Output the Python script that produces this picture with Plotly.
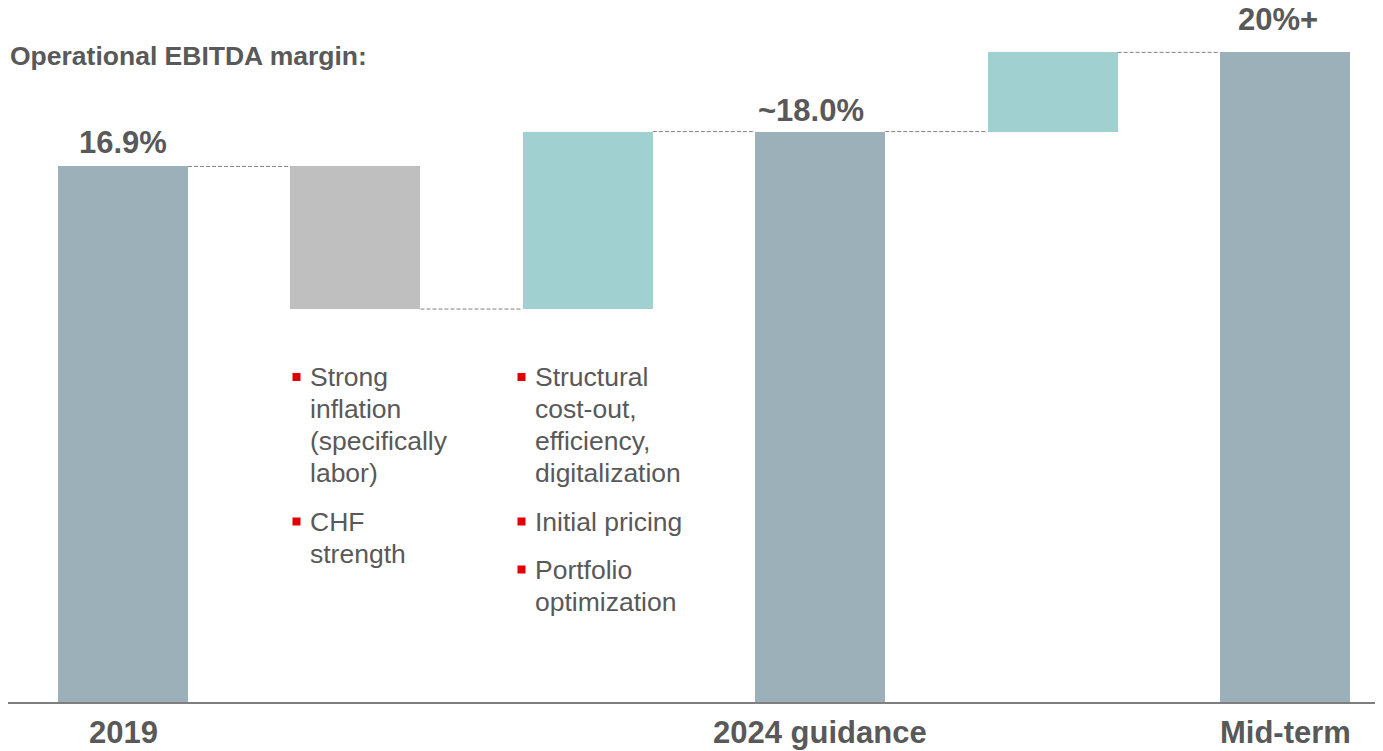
import plotly.graph_objects as go

# ---------------- data ----------------
steps = ["2019", "Headwinds", "Improvements", "2024 guidance", "Further measures", "Mid-term"]
kinds = ["total", "relative", "relative", "total", "relative", "total"]
values = [16.9, -4.5, 5.6, 18.0, 2.5, 20.5]
value_labels = ["16.9%", "", "", "~18.0%", "", "20%+"]
axis_labels = ["2019", "", "", "2024 guidance", "", "Mid-term"]
title_text = "Operational EBITDA margin:"
left_bullets = [["Strong", "inflation", "(specifically", "labor)"], ["CHF", "strength"]]
right_bullets = [["Structural", "cost-out,", "efficiency,", "digitalization"], ["Initial pricing"],
                 ["Portfolio", "optimization"]]

# ---------------- style ----------------
OFF = 8  # page body margin in the browser
W, H = 1383 - OFF, 751 - OFF
ML, MR, MT, MB = 0, 0, 0, 49
PW, PH = W - ML - MR, H - MT - MB
FONT = "Liberation Sans, Arial, sans-serif"
TXT = "#595959"
C_TOTAL, C_DOWN, C_UP = "#9BB0B8", "#BFBFBF", "#A0D0D0"
BAR_W = 0.56


def px_x(px):
    return (px - OFF - ML) / PW


def px_y(py):
    return (MT + PH - (py - OFF)) / PH


# compute floating bars
bases, heights, colors, tops = [], [], [], []
level = 0.0
for k, v in zip(kinds, values):
    if k == "total":
        bases.append(0)
        heights.append(v)
        colors.append(C_TOTAL)
        level = v
    else:
        new = level + v
        bases.append(min(level, new))
        heights.append(abs(v))
        colors.append(C_UP if v > 0 else C_DOWN)
        level = new
    tops.append(level)

xs = list(range(len(steps)))
fig = go.Figure(go.Bar(x=xs, y=heights, base=bases, width=BAR_W,
                       marker=dict(color=colors, line=dict(width=0)),
                       hoverinfo="skip"))

shapes = []
# connectors
for i in range(len(xs) - 1):
    shapes.append(dict(type="line", xref="x", yref="y",
                       x0=xs[i] + BAR_W / 2, x1=xs[i + 1] - BAR_W / 2,
                       y0=tops[i], y1=tops[i],
                       line=dict(color="#808080", width=1, dash="4px,2px")))

annotations = []
# value labels
label_yshift = [4, 0, 0, 2, 0, 13]
label_xshift = [0, 0, 0, -9, 0, -7]
for i, t in enumerate(value_labels):
    if t:
        annotations.append(dict(x=xs[i], y=max(bases[i] + heights[i], 0), xref="x", yref="y",
                                text="<b>%s</b>" % t, showarrow=False,
                                yanchor="bottom", xanchor="center",
                                yshift=label_yshift[i], xshift=label_xshift[i],
                                font=dict(family=FONT, size=31, color=TXT)))
# axis labels
for i, t in enumerate(axis_labels):
    if t:
        annotations.append(dict(x=xs[i], y=0, xref="x", yref="paper",
                                text="<b>%s</b>" % t, showarrow=False,
                                yanchor="middle", xanchor="center", yshift=-30,
                                font=dict(family=FONT, size=31, color=TXT)))
# title
annotations.append(dict(x=px_x(OFF), y=px_y(56), xref="paper", yref="paper",
                        text="<b>%s</b>" % title_text, showarrow=False,
                        xanchor="left", yanchor="middle",
                        font=dict(family=FONT, size=26.5, color=TXT)))

# bullet text columns
LINE = 32
cols = [(308, 296.5, left_bullets, [377, 521.5]),
        (533, 521.5, right_bullets, [377, 521.5, 569.5])]
for tx, bx, groups, ys in cols:
    for lines, yc in zip(groups, ys):
        for j, t in enumerate(lines):
            annotations.append(dict(x=px_x(tx), y=px_y(yc + j * LINE), xref="paper", yref="paper",
                                    text=t, showarrow=False, align="left",
                                    xanchor="left", yanchor="middle",
                                    font=dict(family=FONT, size=26.5, color=TXT)))
        shapes.append(dict(type="rect", xref="paper", yref="paper",
                           x0=px_x(bx - 4), x1=px_x(bx + 4),
                           y0=px_y(yc - 4), y1=px_y(yc + 4),
                           fillcolor="#E00000", line=dict(width=0)))

# x range: bar centers at 123 + 232.4*i (reference pixels)
x_left = (OFF + ML - 123) / 232.4
x_right = (OFF + W - MR - 123) / 232.4
# y: baseline at 702, 31.69 px per point
y_top = (702 - OFF - MT) / 31.69

fig.update_layout(
    width=W, height=H,
    margin=dict(l=ML, r=MR, t=MT, b=MB),
    paper_bgcolor="white", plot_bgcolor="white",
    showlegend=False, bargap=0,
    xaxis=dict(range=[x_left, x_right], showticklabels=False, showgrid=False, zeroline=False,
               showline=True, linecolor="#7F7F7F", linewidth=2, fixedrange=True),
    yaxis=dict(range=[0, y_top], visible=False, fixedrange=True),
    shapes=shapes, annotations=annotations,
)

fig.write_html("out.html")
